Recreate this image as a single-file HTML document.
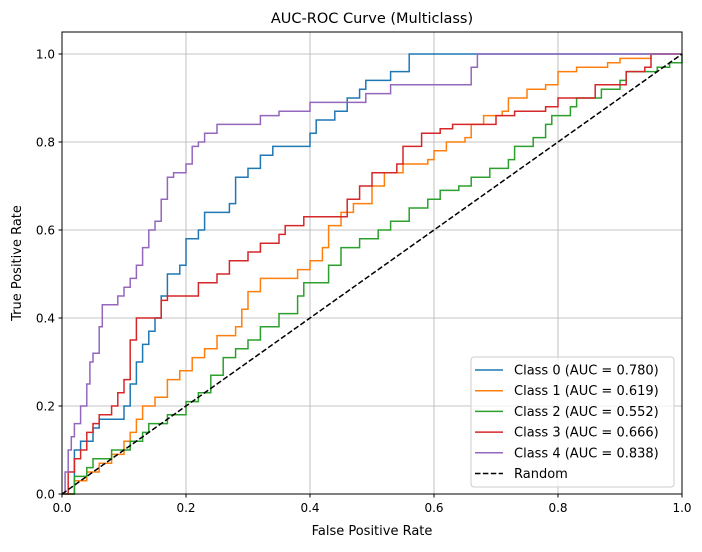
<!DOCTYPE html>
<html><head><meta charset="utf-8"><style>
body{margin:0;background:#fff;font-family:"Liberation Sans","DejaVu Sans",sans-serif}
</style></head><body>
<svg id="chart" width="702" height="547" xmlns="http://www.w3.org/2000/svg" font-family="DejaVu Sans, Liberation Sans, sans-serif">
<rect width="702" height="547" fill="#fff"/>
<g id="grid"></g>
<g id="series"></g>
<rect x="62" y="32" width="620" height="462" fill="none" stroke="#000" stroke-width="1"/>
<g id="ticks"></g>
<text x="372" y="23" text-anchor="middle" font-size="14.5">AUC-ROC Curve (Multiclass)</text>
<text x="372" y="535" text-anchor="middle" font-size="13">False Positive Rate</text>
<text transform="translate(21,263) rotate(-90)" text-anchor="middle" font-size="13">True Positive Rate</text>
<g id="legend"></g>
</svg>
<script>
const xTicks=[0,0.2,0.4,0.6,0.8,1.0];
const yTicks=[0,0.2,0.4,0.6,0.8,1.0];
const tickLabels=["0.0","0.2","0.4","0.6","0.8","1.0"];
const classNames=["Class 0","Class 1","Class 2","Class 3","Class 4"];
const aucValues=["0.780","0.619","0.552","0.666","0.838"];
const colors=["#1f77b4","#ff7f0e","#2ca02c","#d62728","#9467bd"];
const class0=[[0,0],[0.02,0.1],[0.03,0.12],[0.05,0.15],[0.06,0.17],[0.1,0.17],[0.1,0.2],[0.11,0.25],[0.12,0.3],[0.13,0.34],[0.14,0.37],[0.15,0.4],[0.16,0.45],[0.17,0.5],[0.19,0.52],[0.2,0.58],[0.22,0.6],[0.23,0.64],[0.27,0.66],[0.28,0.72],[0.3,0.74],[0.32,0.77],[0.34,0.79],[0.39,0.79],[0.4,0.82],[0.41,0.85],[0.44,0.87],[0.46,0.9],[0.48,0.92],[0.49,0.94],[0.53,0.94],[0.53,0.96],[0.56,0.96],[0.56,1.0],[1,1]];
const class1=[[0,0],[0.02,0],[0.02,0.03],[0.04,0.05],[0.06,0.07],[0.08,0.09],[0.1,0.12],[0.11,0.14],[0.12,0.17],[0.13,0.2],[0.15,0.22],[0.17,0.26],[0.19,0.28],[0.21,0.31],[0.23,0.33],[0.25,0.36],[0.28,0.38],[0.29,0.42],[0.3,0.46],[0.32,0.49],[0.37,0.49],[0.38,0.51],[0.4,0.53],[0.42,0.56],[0.43,0.61],[0.45,0.64],[0.47,0.66],[0.5,0.7],[0.52,0.73],[0.55,0.75],[0.59,0.76],[0.6,0.78],[0.62,0.8],[0.65,0.81],[0.66,0.84],[0.68,0.86],[0.71,0.87],[0.72,0.9],[0.75,0.92],[0.78,0.93],[0.8,0.96],[0.83,0.97],[0.88,0.98],[0.9,0.99],[0.95,1.0],[1,1]];
const class2=[[0,0],[0.02,0.04],[0.04,0.06],[0.05,0.08],[0.08,0.1],[0.11,0.12],[0.13,0.14],[0.14,0.16],[0.17,0.18],[0.2,0.21],[0.22,0.23],[0.24,0.27],[0.26,0.31],[0.28,0.33],[0.3,0.35],[0.32,0.38],[0.35,0.41],[0.38,0.43],[0.38,0.45],[0.39,0.48],[0.42,0.48],[0.43,0.52],[0.45,0.56],[0.48,0.58],[0.51,0.6],[0.53,0.62],[0.56,0.65],[0.59,0.67],[0.61,0.69],[0.64,0.7],[0.66,0.72],[0.69,0.74],[0.72,0.76],[0.73,0.79],[0.76,0.81],[0.78,0.84],[0.79,0.86],[0.82,0.88],[0.83,0.9],[0.87,0.92],[0.9,0.94],[0.91,0.96],[0.96,0.97],[0.98,0.98],[1,1]];
const class3=[[0,0],[0.01,0.05],[0.02,0.08],[0.03,0.1],[0.04,0.14],[0.05,0.16],[0.06,0.18],[0.08,0.2],[0.09,0.23],[0.1,0.26],[0.11,0.3],[0.11,0.35],[0.12,0.37],[0.12,0.4],[0.15,0.4],[0.16,0.44],[0.17,0.45],[0.22,0.45],[0.22,0.48],[0.25,0.5],[0.27,0.53],[0.3,0.55],[0.32,0.57],[0.35,0.59],[0.36,0.61],[0.39,0.63],[0.45,0.63],[0.46,0.67],[0.48,0.7],[0.5,0.73],[0.53,0.73],[0.54,0.75],[0.55,0.79],[0.58,0.82],[0.61,0.83],[0.63,0.84],[0.7,0.84],[0.7,0.86],[0.73,0.87],[0.76,0.87],[0.78,0.88],[0.8,0.9],[0.84,0.9],[0.86,0.93],[0.91,0.93],[0.91,0.96],[0.94,0.97],[0.95,1.0],[1,1]];
const class4=[[0,0],[0.005,0.05],[0.01,0.1],[0.015,0.13],[0.02,0.16],[0.03,0.2],[0.04,0.25],[0.045,0.3],[0.05,0.32],[0.06,0.38],[0.065,0.43],[0.08,0.43],[0.09,0.45],[0.1,0.47],[0.11,0.49],[0.12,0.52],[0.13,0.56],[0.14,0.6],[0.15,0.62],[0.16,0.67],[0.17,0.72],[0.18,0.73],[0.2,0.75],[0.21,0.79],[0.22,0.8],[0.23,0.82],[0.25,0.84],[0.31,0.84],[0.32,0.86],[0.35,0.87],[0.4,0.89],[0.48,0.89],[0.49,0.91],[0.53,0.91],[0.53,0.93],[0.65,0.93],[0.66,0.97],[0.67,1.0],[1,1]];
const allSeries=[class0,class1,class2,class3,class4];
const randomLine=[[0,0],[1,1]];

const NS="http://www.w3.org/2000/svg";
const X=v=>62+620*v, Y=v=>494-440*v;
function mk(t,a,p){const e=document.createElementNS(NS,t);for(const k in a)e.setAttribute(k,a[k]);p.appendChild(e);return e;}
const grid=document.getElementById('grid'),ticks=document.getElementById('ticks');
xTicks.forEach((v,i)=>{
 const g=mk('line',{x1:X(v),x2:X(v),y1:32,y2:494,stroke:'#b0b0b0','stroke-width':0.8},grid);
 
 
 const t=mk('line',{x1:X(v),x2:X(v),y1:494,y2:497.5,stroke:'#000'},ticks);
 
 
 const l=mk('text',{x:X(v),y:512,'text-anchor':'middle','font-size':12},ticks);
 
 
 l.textContent=tickLabels[i];
});
yTicks.forEach((v,i)=>{
 const g=mk('line',{x1:62,x2:682,y1:Y(v),y2:Y(v),stroke:'#b0b0b0','stroke-width':0.8},grid);
 
 
 const t=mk('line',{x1:58.5,x2:62,y1:Y(v),y2:Y(v),stroke:'#000'},ticks);
 
 
 const l=mk('text',{x:55,y:Y(v)+4.5,'text-anchor':'end','font-size':12},ticks);
 
 
 l.textContent=tickLabels[i];
});
const sg=document.getElementById('series');
allSeries.forEach((pts,i)=>{
 let d='M'+X(pts[0][0])+','+Y(pts[0][1]);
 for(let k=1;k<pts.length;k++){d+=' H'+X(pts[k][0])+' V'+Y(pts[k][1]);}
 const p=mk('path',{d:d,fill:'none',stroke:colors[i],'stroke-width':1.5},sg);
 
 
});
const r=mk('line',{x1:X(randomLine[0][0]),y1:Y(randomLine[0][1]),x2:X(randomLine[1][0]),y2:Y(randomLine[1][1]),stroke:'#000','stroke-width':1.5,'stroke-dasharray':'5.5,2.4'},sg);


const lg=document.getElementById('legend');
const box=mk('rect',{x:471,y:357,width:203,height:130,rx:3,fill:'#fff','fill-opacity':0.8,stroke:'#ccc'},lg);


const labels=classNames.map((c,i)=>c+' (AUC = '+aucValues[i]+')').concat(['Random']);
labels.forEach((s,i)=>{
 const y=370+20.7*i;
 const ln=mk('line',{x1:475,x2:503,y1:y,y2:y,stroke:i<5?colors[i]:'#000','stroke-width':1.5},lg);
 if(i==5)ln.setAttribute('stroke-dasharray','5.5,2.4');
 
 
 const t=mk('text',{x:514,y:y+4.5,'font-size':13},lg);
 
 
 t.textContent=s;
});
</script>
</body></html>
